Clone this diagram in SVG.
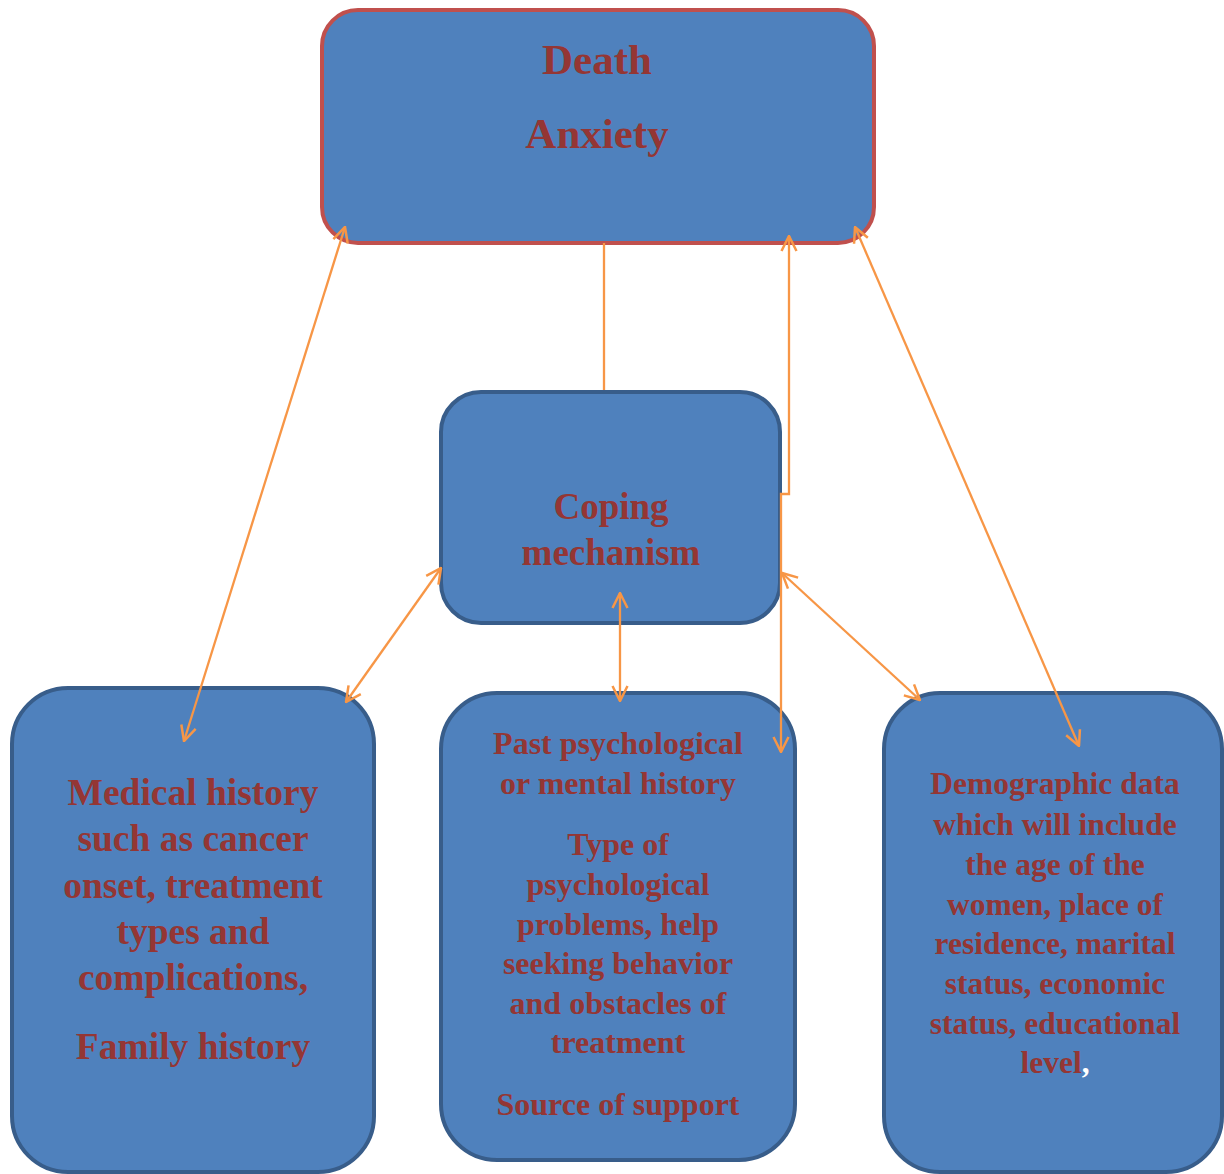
<svg xmlns="http://www.w3.org/2000/svg" width="1224" height="1174" viewBox="0 0 1224 1174">
<style>
.box{fill:#4F81BD;stroke:#385D8A;stroke-width:4}
.top{fill:#4F81BD;stroke:#C0504D;stroke-width:4}
.t{font-family:"Liberation Serif","Times New Roman",serif;font-weight:bold;fill:#943634;text-anchor:middle}
.c{fill:none;stroke:#F79646;stroke-width:2.3}
</style>
<defs>
<marker id="ah" viewBox="0 0 18 18" refX="17" refY="9" markerWidth="18" markerHeight="18" markerUnits="userSpaceOnUse" orient="auto-start-reverse">
<path d="M2,1.5 L17,9 L2,16.5" fill="none" stroke="#F79646" stroke-width="2.5"/>
</marker>
</defs>
<g id="death-anxiety">
<rect class="top" x="322" y="10" width="552" height="233" rx="36"/>
<text class="t" x="597" y="74" font-size="43">Death</text>
<text class="t" x="597" y="148" font-size="43">Anxiety</text>
</g>
<g id="coping">
<rect class="box" x="441" y="392" width="339" height="231" rx="40"/>
<text class="t" x="611" y="519" font-size="37">Coping</text>
<text class="t" x="611" y="565" font-size="37">mechanism</text>
</g>
<g id="medical">
<rect class="box" x="12" y="688" width="362" height="484" rx="56"/>
<g class="t" font-size="37.5">
<text x="193" y="805">Medical history</text>
<text x="193" y="851">such as cancer</text>
<text x="193" y="898">onset, treatment</text>
<text x="193" y="944">types and</text>
<text x="193" y="990">complications,</text>
<text x="193" y="1059">Family history</text>
</g>
</g>
<g id="psych">
<rect class="box" x="441" y="693" width="354" height="467" rx="56"/>
<g class="t" font-size="32">
<text x="618" y="754">Past psychological</text>
<text x="618" y="794">or mental history</text>
<text x="618" y="855">Type of</text>
<text x="618" y="895">psychological</text>
<text x="618" y="935">problems, help</text>
<text x="618" y="974">seeking behavior</text>
<text x="618" y="1014">and obstacles of</text>
<text x="618" y="1053">treatment</text>
<text x="618" y="1115">Source of support</text>
</g>
</g>
<g id="demographic">
<rect class="box" x="884" y="693" width="338" height="479" rx="56"/>
<g class="t" font-size="31.5">
<text x="1055" y="794">Demographic data</text>
<text x="1055" y="835">which will include</text>
<text x="1055" y="875">the age of the</text>
<text x="1055" y="915">women, place of</text>
<text x="1055" y="954">residence, marital</text>
<text x="1055" y="994">status, economic</text>
<text x="1055" y="1034">status, educational</text>
<text x="1055" y="1073">level<tspan fill="#FFFFFF">,</tspan></text>
</g>
</g>
<g id="connectors">
<line class="c" x1="345" y1="227" x2="184" y2="741" marker-start="url(#ah)" marker-end="url(#ah)"/>
<line class="c" x1="604" y1="243" x2="604" y2="390"/>
<polyline class="c" points="789,236 789,494 781,494 781,752" marker-start="url(#ah)" marker-end="url(#ah)"/>
<line class="c" x1="441" y1="568" x2="346" y2="702" marker-start="url(#ah)" marker-end="url(#ah)"/>
<line class="c" x1="620" y1="593" x2="620" y2="701" marker-start="url(#ah)" marker-end="url(#ah)"/>
<line class="c" x1="782" y1="573" x2="920" y2="700" marker-start="url(#ah)" marker-end="url(#ah)"/>
<line class="c" x1="855" y1="227" x2="1079" y2="746" marker-start="url(#ah)" marker-end="url(#ah)"/>
</g>
</svg>
